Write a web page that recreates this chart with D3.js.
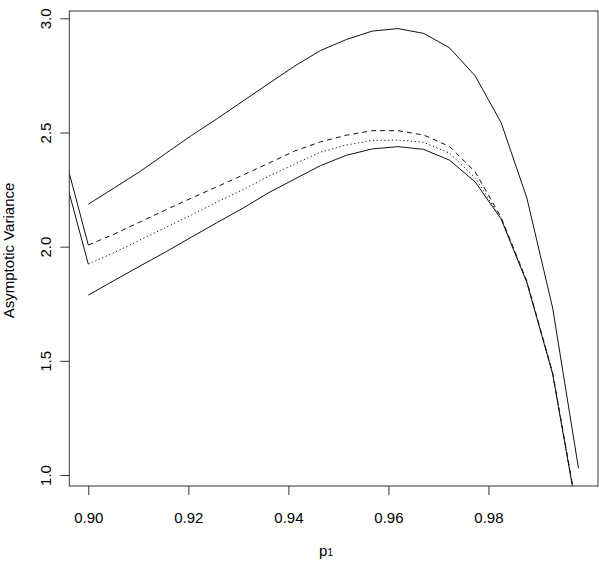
<!DOCTYPE html>
<html>
<head>
<meta charset="utf-8">
<script src="https://cdn.jsdelivr.net/npm/d3@7"></script>
<style>
body { margin: 0; background: #fff; }
text { font-family: "Liberation Sans", Arial, sans-serif; }
</style>
</head>
<body>
<script>
// p1 grid
var p1 = [0.9, 0.90516, 0.91032, 0.91547, 0.92063, 0.92579, 0.93095, 0.93611, 0.94126, 0.94642,
          0.95158, 0.95674, 0.96189, 0.96705, 0.97221, 0.97737, 0.98253, 0.98768, 0.99284, 0.998];

var upper = [2.186, 2.257, 2.329, 2.408, 2.487, 2.561, 2.638, 2.715, 2.791, 2.859,
             2.907, 2.944, 2.955, 2.934, 2.871, 2.747, 2.543, 2.213, 1.731, 1.029];
var dashed = [2.007, 2.055, 2.108, 2.161, 2.213, 2.263, 2.314, 2.366, 2.419, 2.459,
              2.488, 2.508, 2.508, 2.489, 2.439, 2.327, 2.128, 1.849, 1.447, 0.81];
var dotted = [1.924, 1.974, 2.029, 2.084, 2.139, 2.196, 2.250, 2.309, 2.362, 2.414,
              2.445, 2.465, 2.467, 2.457, 2.410, 2.301, 2.123, 1.845, 1.444, 0.805];
var lower = [1.788, 1.852, 1.915, 1.977, 2.042, 2.106, 2.169, 2.237, 2.296, 2.355,
             2.400, 2.428, 2.438, 2.426, 2.379, 2.283, 2.121, 1.843, 1.442, 0.80];

// short solid pieces coming in from the left edge
var leadX = [0.89484, 0.9];
var leadA = [2.434, 2.007];
var leadB = [2.344, 1.924];

var xTicks = [0.90, 0.92, 0.94, 0.96, 0.98];
var yTicks = [1.0, 1.5, 2.0, 2.5, 3.0];

function main(){
	var W = 599, H = 578;
	var pLeft = 69.3, pRight = 598, pTop = 11, pBottom = 486;

	var svg = d3.select('body').append('svg').attr('width', W).attr('height', H);
	svg.append('rect').attr('width', W).attr('height', H).attr('fill', '#fff');

	var x = d3.scaleLinear().domain([0.8962, 1.0019]).range([pLeft, pRight]);
	var y = d3.scaleLinear().domain([0.952, 3.032]).range([pBottom, pTop]);

	svg.append('clipPath').attr('id', 'plotclip')
		.append('rect').attr('x', pLeft).attr('y', pTop)
		.attr('width', pRight - pLeft).attr('height', pBottom - pTop);

	var g = svg.append('g').attr('clip-path', 'url(#plotclip)');

	function draw(xs, ys, dash){
		var line = d3.line().x(function(d){ return x(d[0]); }).y(function(d){ return y(d[1]); });
		g.append('path')
			.datum(d3.zip(xs, ys))
			.attr('d', line)
			.attr('fill', 'none')
			.attr('stroke', '#111')
			.attr('stroke-width', 1)
			.attr('stroke-dasharray', dash);
	}

	draw(p1, upper, null);
	draw(p1, dashed, '5,4');
	draw(p1, dotted, '1.2,2.6');
	draw(p1, lower, null);
	draw(leadX, leadA, null);
	draw(leadX, leadB, null);

	// box
	svg.append('rect')
		.attr('x', pLeft).attr('y', pTop)
		.attr('width', pRight - pLeft).attr('height', pBottom - pTop)
		.attr('fill', 'none').attr('stroke', '#333').attr('stroke-width', 1);

	// x axis
	var xAxis = svg.append('g')
		.attr('transform', 'translate(0,' + pBottom + ')')
		.call(d3.axisBottom(x).tickValues(xTicks).tickSize(9).tickPadding(0)
			.tickFormat(d3.format('.2f')));
	xAxis.select('.domain').remove();
	xAxis.selectAll('line').attr('stroke', '#333');
	xAxis.selectAll('text')
		.attr('y', 36.5).attr('dy', null)
		.attr('font-size', 15).attr('font-family', 'Liberation Sans, Arial, sans-serif')
		.attr('fill', '#000');

	// y axis, labels turned like R does
	var yAxis = svg.append('g')
		.attr('transform', 'translate(' + pLeft + ',0)')
		.call(d3.axisLeft(y).tickValues(yTicks).tickSize(9)
			.tickFormat(d3.format('.1f')));
	yAxis.select('.domain').remove();
	yAxis.selectAll('line').attr('stroke', '#333');
	yAxis.selectAll('text').remove();
	yAxis.selectAll('.tick').append('text')
		.attr('transform', 'translate(-18,0) rotate(-90)')
		.attr('text-anchor', 'middle')
		.attr('font-size', 15)
		.attr('font-family', 'Liberation Sans, Arial, sans-serif')
		.attr('fill', '#000')
		.text(function(d){ return d3.format('.1f')(d); });

	// axis titles
	var xt = svg.append('text')
		.attr('x', 326).attr('y', 556)
		.attr('text-anchor', 'middle')
		.attr('font-size', 15);
	xt.append('tspan').text('p');
	xt.append('tspan').attr('font-size', 10).text('1');

	svg.append('text')
		.attr('transform', 'translate(14,' + ((pTop + pBottom) / 2 + 2) + ') rotate(-90)')
		.attr('text-anchor', 'middle')
		.attr('font-size', 15)
		.text('Asymptotic Variance');
}

main();
</script>
</body>
</html>
